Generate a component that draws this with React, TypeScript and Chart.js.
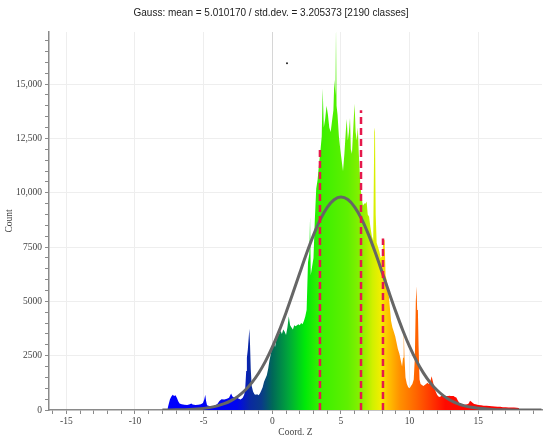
import React, { useEffect, useRef } from "react";
import { Chart, registerables } from "chart.js";

Chart.register(...registerables);

const titleText = "Gauss: mean = 5.010170 / std.dev. = 3.205373 [2190 classes]";
const xTitle = "Coord. Z";
const yTitle = "Count";

// Histogram outline (Coord. Z, count)
const histZ = [
  -7.65, -7.55, -7.45, -7.35, -7.25, -7.15, -7.05, -6.95, -6.85, -6.75, -6.6, -6.4, -6.2, -6.0, -5.9, -5.8,
  -5.6, -5.4, -5.2, -5.05, -4.95, -4.88, -4.82, -4.75, -4.6, -4.4, -4.2, -4.0, -3.85, -3.7, -3.5, -3.3,
  -3.15, -3.0, -2.9, -2.75, -2.6, -2.45, -2.3, -2.15, -2.05, -1.98, -1.9, -1.85, -1.78, -1.72, -1.67, -1.62,
  -1.57, -1.5, -1.4, -1.3, -1.2, -1.1, -1.0, -0.9, -0.8, -0.7, -0.6, -0.5, -0.4, -0.3, -0.2, -0.1,
  0.0, 0.1, 0.2, 0.3, 0.4, 0.5, 0.6, 0.7, 0.8, 0.9, 1.0, 1.1, 1.2, 1.3, 1.4, 1.5,
  1.6, 1.7, 1.8, 1.9, 2.0, 2.1, 2.2, 2.3, 2.4, 2.5, 2.6, 2.7, 2.75, 2.8, 2.9, 3.0,
  3.1, 3.2, 3.3, 3.4, 3.5, 3.6, 3.67, 3.75, 3.85, 3.95, 4.05, 4.15, 4.25, 4.35, 4.45, 4.52,
  4.6, 4.64, 4.68, 4.75, 4.85, 4.95, 5.05, 5.15, 5.25, 5.35, 5.42, 5.5, 5.58, 5.66, 5.72, 5.8,
  5.9, 5.99, 6.07, 6.15, 6.23, 6.3, 6.4, 6.5, 6.6, 6.7, 6.8, 6.87, 6.95, 7.05, 7.15, 7.25,
  7.35, 7.43, 7.48, 7.53, 7.6, 7.7, 7.8, 7.9, 8.0, 8.1, 8.18, 8.25, 8.35, 8.45, 8.55, 8.65,
  8.75, 8.85, 8.95, 9.05, 9.15, 9.25, 9.35, 9.45, 9.52, 9.57, 9.62, 9.7, 9.8, 9.9, 10.0, 10.1,
  10.2, 10.3, 10.38, 10.45, 10.5, 10.55, 10.6, 10.65, 10.72, 10.8, 10.9, 11.0, 11.1, 11.2, 11.3, 11.4,
  11.5, 11.6, 11.7, 11.8, 11.9, 12.0, 12.1, 12.2, 12.3, 12.4, 12.5, 12.6, 12.7, 12.8, 12.9, 13.0,
  13.1, 13.2, 13.3, 13.4, 13.5, 13.6, 13.7, 13.8, 13.9, 14.0, 14.1, 14.2, 14.3, 14.4, 14.5, 14.6,
  14.7, 14.8, 15.0, 15.2, 15.4, 15.6, 15.8, 16.0, 16.2, 16.4, 16.6, 16.8, 17.0, 17.2, 17.4, 17.6,
  17.8, 17.95, 18.0,
];
const histCount = [
  0, 250, 500, 620, 700, 650, 680, 560, 400, 300, 260, 240, 230, 260, 300, 250,
  230, 240, 260, 320, 500, 700, 420, 220, 180, 170, 200, 280, 420, 500, 480, 520,
  560, 760, 620, 560, 600, 520, 480, 560, 700, 900, 1800, 2400, 2800, 3300, 3740, 3000,
  1900, 1100, 850, 720, 700, 720, 680, 760, 900, 1050, 1300, 1450, 1600, 1900, 2300, 2600,
  2900, 3100, 2900, 3250, 3400, 3500, 3650, 3500, 3700, 3600, 3450, 3800, 4300, 3900, 3800, 3700,
  3900, 3850, 3900, 3950, 3900, 4000, 3950, 4100, 4300, 4600, 6800, 7200, 8900, 6200, 6600, 7000,
  8800, 10200, 10600, 11300, 11900, 12600, 14800, 13000, 13400, 14000, 13600, 13000, 12800, 13300, 13800, 15200,
  14500, 17600, 14000, 13600, 12600, 12000, 11500, 11000, 11800, 12800, 13400, 12400, 12800, 13450, 12000, 11800,
  13000, 14100, 12800, 12400, 13000, 11800, 10500, 9800, 9400, 9500, 9500, 9600, 9000, 8900, 8400, 8000,
  7800, 13000, 12800, 9000, 7700, 7500, 7300, 7000, 7100, 7900, 7800, 6200, 5900, 5500, 4800, 4100,
  3800, 3600, 3400, 3100, 2800, 2600, 2300, 2000, 2400, 3800, 2500, 1500, 1200, 1050, 1000, 1100,
  1200, 1400, 2400, 5000, 5700, 4600, 4700, 3000, 1400, 1200, 1150, 1100, 1150, 1200, 1250, 1200,
  1300, 1550, 1300, 1000, 850, 700, 620, 600, 640, 650, 640, 640, 650, 640, 660, 640,
  650, 640, 600, 580, 450, 350, 280, 260, 250, 240, 250, 260, 300, 430, 380, 320,
  280, 260, 230, 220, 200, 190, 180, 170, 160, 150, 150, 130, 130, 120, 110, 110,
  100, 90, 0,
];

// Gauss curve
const gaussZ = [
  -8, -7, -6, -5, -4.5, -4, -3.5, -3, -2.5, -2, -1.5, -1, -0.5, 0, 0.5, 1, 1.5, 2, 2.5, 3, 3.5, 4, 4.5, 5,
  5.5, 6, 6.5, 7, 7.5, 8, 8.5, 9, 9.5, 10, 10.5, 11, 11.5, 12, 12.5, 13, 13.5, 14, 14.5, 15, 16, 17, 18, 19, 19.6,
];
const gaussCount = [
  3, 9, 27, 75, 120, 189, 289, 432, 629, 897, 1247, 1690, 2237, 2889, 3642, 4481, 5381, 6306, 7213, 8051, 8771, 9326, 9676, 9800,
  9686, 9343, 8797, 8082, 7248, 6343, 5418, 4517, 3674, 2917, 2261, 1710, 1262, 909, 639, 438, 293, 192, 122, 76, 27, 9, 3, 1, 0,
];

// Dashed markers
const markerZ = [3.47, 6.46, 8.06];
const markerCount = [12100, 13800, 7900];

// Stray dot
const dotZ = [1.07];
const dotCount = [15960];

const yTickValues = [0, 2500, 5000, 7500, 10000, 12500, 15000];
const yTickLabels = ["0", "2500", "5000", "7500", "10,000", "12,500", "15,000"];
const xTickValues = [-15, -10, -5, 0, 5, 10, 15];
const xTickLabels = ["-15", "-10", "-5", "0", "5", "10", "15"];

const colorStops: [number, string][] = [
  [-8, "#0000ff"],
  [-2.6, "#0005f0"],
  [-1.6, "#0a2aa0"],
  [-0.8, "#0a3a8a"],
  [0, "#006858"],
  [1.2, "#00a83a"],
  [2.4, "#00ea08"],
  [3.5, "#3af000"],
  [5.5, "#60f000"],
  [6.6, "#90f000"],
  [7.3, "#d0f000"],
  [7.9, "#f2ee00"],
  [8.4, "#ffc400"],
  [9.3, "#ff9000"],
  [10.5, "#ff6400"],
  [11.5, "#ff3a00"],
  [12.6, "#ff0a00"],
  [18, "#ff0000"],
];

const LABEL_FONT = "'Liberation Serif', 'DejaVu Serif', serif";

export default function App() {
  const ref = useRef<HTMLCanvasElement | null>(null);

  useEffect(() => {
    if (!ref.current) return;
    const markerSets = markerZ.map((z, i) => ({
      type: "line" as const,
      data: [
        { x: z, y: 0 },
        { x: z, y: markerCount[i] },
      ],
      borderColor: "#e5194b",
      borderWidth: 2.5,
      borderDash: [7, 4],
      pointRadius: 0,
      fill: false,
      order: 1,
    }));

    const chart = new Chart(ref.current, {
      type: "line",
      data: {
        datasets: [
          {
            data: histZ.map((z, i) => ({ x: z, y: histCount[i] })),
            borderWidth: 0,
            borderColor: "rgba(0,0,0,0)",
            pointRadius: 0,
            fill: "origin",
            tension: 0,
            order: 3,
            backgroundColor: (ctx: any) => {
              const c = ctx.chart;
              const xs = c.scales?.x;
              if (!c.chartArea || !xs) return "#00ff00";
              const p0 = xs.getPixelForValue(colorStops[0][0]);
              const p1 = xs.getPixelForValue(colorStops[colorStops.length - 1][0]);
              const g = c.ctx.createLinearGradient(p0, 0, p1, 0);
              for (const [z, col] of colorStops) {
                g.addColorStop((xs.getPixelForValue(z) - p0) / (p1 - p0), col);
              }
              return g;
            },
          },
          {
            data: gaussZ.map((z, i) => ({ x: z, y: gaussCount[i] })),
            borderColor: "#666666",
            borderWidth: 3,
            pointRadius: 0,
            fill: false,
            tension: 0.3,
            order: 2,
          },
          ...markerSets,
          {
            data: dotZ.map((z, i) => ({ x: z, y: dotCount[i] })),
            showLine: false,
            pointRadius: 1,
            pointBackgroundColor: "#222",
            pointBorderWidth: 0,
            order: 0,
          },
        ] as any,
      },
      options: {
        responsive: false,
        animation: false,
        layout: { padding: { left: 0, right: 8, top: 0, bottom: 0 } },
        plugins: {
          legend: { display: false },
          tooltip: { enabled: false },
          title: {
            display: true,
            text: titleText,
            color: "#222",
            font: { family: "'Liberation Sans', Arial, sans-serif", size: 10, weight: "normal" as any, lineHeight: 1.2 },
            padding: { top: 7, bottom: 13 },
          },
        },
        scales: {
          x: {
            type: "linear",
            min: -16.26,
            max: 19.64,
            afterBuildTicks: (s: any) => {
              const out = [];
              for (let v = -16; v <= 19; v++) out.push({ value: v });
              s.ticks = out;
            },
            afterFit: (s: any) => {
              s.height = 32;
            },
            border: { color: "#8a8a8a", width: 1.5 },
            grid: {
              color: (c: any) => {
                const v = c.tick?.value;
                if (v === 0) return "#d6d6d6";
                return xTickValues.includes(v) ? "#eeeeee" : "rgba(0,0,0,0)";
              },
              tickColor: "#8a8a8a",
              tickLength: 4,
            },
            ticks: {
              autoSkip: false,
              maxRotation: 0,
              padding: 2,
              color: "#444",
              font: { family: LABEL_FONT, size: 9.5 },
              callback: (v: any) => {
                const i = xTickValues.indexOf(Number(v));
                return i >= 0 ? xTickLabels[i] : "";
              },
            },
            title: {
              display: true,
              text: xTitle,
              color: "#444",
              font: { family: LABEL_FONT, size: 9.5 },
              padding: { top: 0, bottom: 4 },
            },
          },
          y: {
            type: "linear",
            min: 0,
            max: 17400,
            afterBuildTicks: (s: any) => {
              const out = [];
              for (let v = 0; v <= 17000; v += 500) out.push({ value: v });
              s.ticks = out;
            },
            afterFit: (s: any) => {
              s.width = 49;
            },
            border: { color: "#8a8a8a", width: 1.5 },
            grid: {
              color: (c: any) => {
                const v = c.tick?.value;
                return v !== 0 && yTickValues.includes(v) ? "#eeeeee" : "rgba(0,0,0,0)";
              },
              tickColor: "#8a8a8a",
              tickLength: 4,
            },
            ticks: {
              autoSkip: false,
              padding: 3,
              color: "#444",
              font: { family: LABEL_FONT, size: 9.5 },
              callback: (v: any) => {
                const i = yTickValues.indexOf(Number(v));
                return i >= 0 ? yTickLabels[i] : "";
              },
            },
            title: {
              display: true,
              text: yTitle,
              color: "#444",
              font: { family: LABEL_FONT, size: 9.5 },
              padding: { top: 4, bottom: 4 },
            },
          },
        },
      },
    });
    return () => chart.destroy();
  }, []);

  return (
    <div style={{ position: "fixed", left: 0, top: 0, width: 550, height: 442, background: "#fff" }}>
      <canvas ref={ref} width={550} height={442} />
    </div>
  );
}
